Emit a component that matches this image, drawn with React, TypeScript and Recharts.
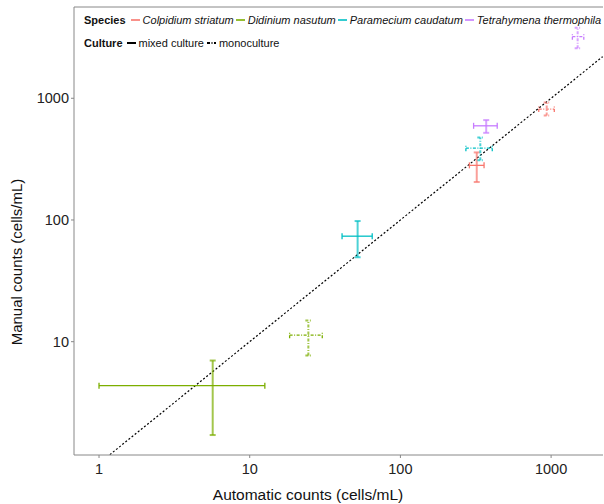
import React from "react";
import { ScatterChart, Scatter, XAxis, YAxis, ErrorBar, ReferenceLine } from "recharts";

const speciesNames = ["Colpidium striatum", "Didinium nasutum", "Paramecium caudatum", "Tetrahymena thermophila"];
const speciesColors = ["#F8766D", "#7CAE00", "#00BFC4", "#C77CFF"];
const cultureNames = ["mixed culture", "monoculture"];

// one entry per species x culture
const pointSpecies = [0, 0, 1, 1, 2, 2, 3, 3];
const pointCulture = [0, 1, 0, 1, 0, 1, 0, 1];
const autoMean = [321, 935, 5.68, 24.5, 52, 339, 371, 1500];
const autoLow = [287, 828, 1.0, 18.4, 41, 272, 306, 1384];
const autoHigh = [359, 1050, 12.6, 30.3, 65, 407, 439, 1648];
const manualMean = [281, 815, 4.35, 11.3, 73.6, 389, 594, 3206];
const manualLow = [205, 722, 1.71, 7.69, 49.4, 310, 520, 2572];
const manualHigh = [359, 925, 7.0, 14.9, 98, 477, 662, 3800];

const xTicks = [1, 10, 100, 1000];
const yTicks = [10, 100, 1000];
const oneToOne = [1.18, 2200];

const font = "'Liberation Sans', Arial, sans-serif";
const dashMono = "3 1.5 1 1.5";

const series = autoMean.map((x, i) => ({
  species: pointSpecies[i],
  culture: pointCulture[i],
  data: [
    {
      x,
      y: manualMean[i],
      ex: [x - autoLow[i], autoHigh[i] - x],
      ey: [manualMean[i] - manualLow[i], manualHigh[i] - manualMean[i]],
    },
  ],
}));

function Swatch(props: { color: string; dash?: string; opacity?: number }) {
  return (
    <svg width={9.5} height={10} style={{ margin: "0 2.5px 0 0", display: "block" }}>
      <line x1={0} x2={9.5} y1={5} y2={5} stroke={props.color} strokeWidth={2} strokeOpacity={props.opacity ?? 1} strokeDasharray={props.dash} />
    </svg>
  );
}

function LegendBox() {
  const row: React.CSSProperties = {
    position: "absolute",
    left: 84,
    display: "flex",
    alignItems: "center",
    whiteSpace: "nowrap",
    fontFamily: font,
    fontSize: 11,
    lineHeight: "14px",
    color: "#111",
  };
  return (
    <>
      <div style={{ ...row, top: 12.5 }}>
        <b style={{ marginRight: 5 }}>Species</b>
        {speciesNames.map((s, i) => (
          <React.Fragment key={s}>
            <Swatch color={speciesColors[i]} opacity={0.8} />
            <i style={{ marginRight: 2 }}>{s}</i>
          </React.Fragment>
        ))}
      </div>
      <div style={{ ...row, top: 35.6 }}>
        <b style={{ marginRight: 4 }}>Culture</b>
        <Swatch color="#000" />
        <span style={{ marginRight: 3 }}>{cultureNames[0]}</span>
        <Swatch color="#000" dash={dashMono} />
        <span>{cultureNames[1]}</span>
      </div>
    </>
  );
}

export default function App() {
  const tickStyle = { fontSize: 14.5, fill: "#222", fontFamily: font };
  return (
    <div style={{ position: "absolute", left: 0, top: 0, width: 604, height: 504, background: "#fff" }}>
      <ScatterChart width={604} height={504} margin={{ top: 7, right: 1, bottom: 0, left: 0 }}>
        <XAxis
          type="number"
          dataKey="x"
          scale="log"
          domain={[0.6823, 2210]}
          allowDataOverflow
          ticks={xTicks}
          height={49}
          tick={tickStyle}
          tickSize={3}
          tickMargin={6}
          axisLine={{ stroke: "#888" }}
          tickLine={{ stroke: "#888" }}
          label={{
            content: () => (
              <text x={308} y={494} textAnchor="middle" dominantBaseline="central" fontSize={15.5} fontFamily={font} fill="#111">
                Automatic counts (cells/mL)
              </text>
            ),
          }}
        />
        <YAxis
          type="number"
          dataKey="y"
          scale="log"
          domain={[1.172, 5623]}
          allowDataOverflow
          ticks={yTicks}
          width={74}
          tick={tickStyle}
          tickSize={3}
          tickMargin={2}
          axisLine={{ stroke: "#888" }}
          tickLine={{ stroke: "#888" }}
          label={{
            content: () => (
              <text x={16} y={262} transform="rotate(-90 16 262)" textAnchor="middle" dominantBaseline="central" fontSize={15} fontFamily={font} fill="#111">
                Manual counts (cells/mL)
              </text>
            ),
          }}
        />
        <ReferenceLine y={5623} stroke="#888" ifOverflow="visible" />
        <ReferenceLine
          segment={[
            { x: oneToOne[0], y: oneToOne[0] },
            { x: oneToOne[1], y: oneToOne[1] },
          ]}
          ifOverflow="hidden"
          stroke="#000"
          strokeWidth={1.2}
          strokeDasharray="2 2"
        />
        {series.map((s, i) => {
          const color = speciesColors[s.species];
          const dash = s.culture === 1 ? dashMono : undefined;
          return (
            <Scatter key={i} data={s.data} shape={() => <g />} isAnimationActive={false}>
              <ErrorBar dataKey="ex" direction="x" width={3} stroke={color} strokeWidth={1.3} strokeDasharray={dash} isAnimationActive={false} />
              <ErrorBar dataKey="ey" direction="y" width={3} stroke={color} strokeOpacity={0.7} strokeWidth={2} strokeDasharray={dash} isAnimationActive={false} />
            </Scatter>
          );
        })}
      </ScatterChart>
      <LegendBox />
    </div>
  );
}
